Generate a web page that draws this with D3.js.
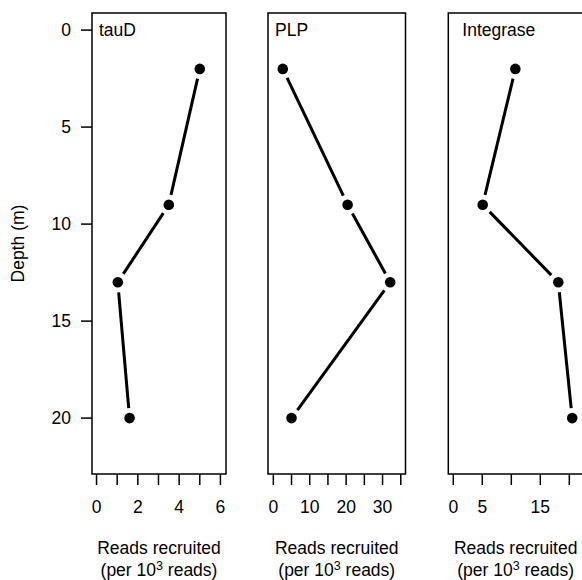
<!DOCTYPE html>
<html>
<head>
<meta charset="utf-8">
<script src="https://cdn.jsdelivr.net/npm/d3@7"></script>
<style>
  html, body { margin: 0; padding: 0; background: #fff; }
  svg text { font-family: "Liberation Sans", Arial, Helvetica, sans-serif; fill: #000; }
</style>
</head>
<body>
<div id="chart"></div>
<script>
// depth of each sample (m)
const depths = [2, 9, 13, 20];

// reads recruited per 10^3 reads
const geneNames = ["tauD", "PLP", "Integrase"];
const tauD = [5.0, 3.5, 1.03, 1.6];
const plp = [2.6, 20.4, 32.1, 5.0];
const integrase = [10.7, 5.07, 18.1, 20.5];

const depthTicks = [0, 5, 10, 15, 20];
const tauDTicks = [0, 1, 2, 3, 4, 5, 6];
const tauDLabels = [0, 2, 4, 6];
const plpTicks = [0, 5, 10, 15, 20, 25, 30, 35];
const plpLabels = [0, 10, 20, 30];
const integraseTicks = [0, 5, 10, 15, 20];
const integraseLabels = [0, 5, 15];

const width = 582;
const height = 580;
const plotTop = 13;
const plotBottom = 474;
const fontSize = 17.5;
const tickLen = 10;
const gap = 10;

const panels = [
    { name: geneNames[0], values: tauD, ticks: tauDTicks, labels: tauDLabels, domain: [-0.22, 6.27], range: [92, 226], titleOffset: 7 },
    { name: geneNames[1], values: plp, ticks: plpTicks, labels: plpLabels, domain: [-1.46, 36.3], range: [268, 405.5], titleOffset: 7 },
    { name: geneNames[2], values: integrase, ticks: integraseTicks, labels: integraseLabels, domain: [-0.86, 22.36], range: [448.3, 583], titleOffset: 14 }
];

const svg = d3.select("#chart")
    .append("svg")
    .attr("width", width)
    .attr("height", height);

const y = d3.scaleLinear()
    .domain([-0.88, 22.88])
    .range([plotTop, plotBottom]);

// depth axis, left of the first panel
const yAxis = svg.append("g").attr("class", "y-axis");

yAxis.selectAll("line")
    .data(depthTicks)
    .enter()
    .append("line")
    .attr("x1", panels[0].range[0] - tickLen - 1)
    .attr("x2", panels[0].range[0])
    .attr("y1", d => y(d))
    .attr("y2", d => y(d))
    .attr("stroke", "#000")
    .attr("stroke-width", 1.5);

yAxis.selectAll("text")
    .data(depthTicks)
    .enter()
    .append("text")
    .attr("x", 71)
    .attr("y", d => y(d))
    .attr("dy", "0.36em")
    .attr("text-anchor", "end")
    .style("font-size", fontSize + "px")
    .text(d => d);

svg.append("text")
    .attr("transform", "translate(24," + ((plotTop + plotBottom) / 2) + ") rotate(-90)")
    .attr("text-anchor", "middle")
    .style("font-size", fontSize + "px")
    .text("Depth (m)");

panels.forEach(panel => {
    const x = d3.scaleLinear()
        .domain(panel.domain)
        .range(panel.range);

    const g = svg.append("g").attr("class", "panel");

    g.append("rect")
        .attr("x", panel.range[0])
        .attr("y", plotTop)
        .attr("width", panel.range[1] - panel.range[0])
        .attr("height", plotBottom - plotTop)
        .attr("fill", "none")
        .attr("stroke", "#000")
        .attr("stroke-width", 1.5);

    g.selectAll("line.tick")
        .data(panel.ticks)
        .enter()
        .append("line")
        .attr("class", "tick")
        .attr("x1", d => x(d))
        .attr("x2", d => x(d))
        .attr("y1", plotBottom)
        .attr("y2", plotBottom + tickLen + 1)
        .attr("stroke", "#000")
        .attr("stroke-width", 1.5);

    g.selectAll("text.tick-label")
        .data(panel.labels)
        .enter()
        .append("text")
        .attr("class", "tick-label")
        .attr("x", d => x(d))
        .attr("y", 513)
        .attr("text-anchor", "middle")
        .style("font-size", fontSize + "px")
        .text(d => d);

    const cx = (panel.range[0] + panel.range[1]) / 2;

    g.append("text")
        .attr("x", cx)
        .attr("y", 554)
        .attr("text-anchor", "middle")
        .style("font-size", fontSize + "px")
        .text("Reads recruited");

    const sub = g.append("text")
        .attr("x", cx)
        .attr("y", 576)
        .attr("text-anchor", "middle")
        .style("font-size", fontSize + "px");
    sub.append("tspan").text("(per 10");
    sub.append("tspan").attr("dy", -6).style("font-size", "12.5px").text("3");
    sub.append("tspan").attr("dy", 6).text(" reads)");

    g.append("text")
        .attr("x", panel.range[0] + panel.titleOffset)
        .attr("y", 36)
        .style("font-size", fontSize + "px")
        .text(panel.name);

    const pts = panel.values.map((v, i) => [x(v), y(depths[i])]);

    // type = "b": segments stop short of the points
    const segs = d3.pairs(pts).map(([a, b]) => {
        const dx = b[0] - a[0];
        const dy = b[1] - a[1];
        const len = Math.sqrt(dx * dx + dy * dy);
        const ux = dx / len;
        const uy = dy / len;
        return [a[0] + ux * gap, a[1] + uy * gap, b[0] - ux * gap, b[1] - uy * gap];
    });

    g.selectAll("line.seg")
        .data(segs)
        .enter()
        .append("line")
        .attr("class", "seg")
        .attr("x1", d => d[0])
        .attr("y1", d => d[1])
        .attr("x2", d => d[2])
        .attr("y2", d => d[3])
        .attr("stroke", "#000")
        .attr("stroke-width", 3);

    g.selectAll("circle")
        .data(pts)
        .enter()
        .append("circle")
        .attr("cx", d => d[0])
        .attr("cy", d => d[1])
        .attr("r", 5.3)
        .attr("fill", "#000");
});
</script>
</body>
</html>
